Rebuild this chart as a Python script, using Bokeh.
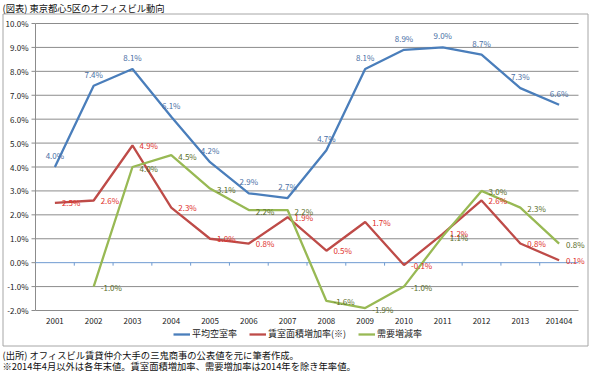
import math
from bokeh.plotting import figure
from bokeh.models import Range1d, Legend, LegendItem, ColumnDataSource
from bokeh.embed import file_html
from bokeh.resources import INLINE
from bokeh.core.properties import value

# ---- data ----
years = ["2001", "2002", "2003", "2004", "2005", "2006", "2007", "2008",
         "2009", "2010", "2011", "2012", "2013", "201404"]
vacancy = [4.0, 7.4, 8.1, 6.1, 4.2, 2.9, 2.7, 4.7, 8.1, 8.9, 9.0, 8.7, 7.3, 6.6]
supply = [2.5, 2.6, 4.9, 2.3, 1.0, 0.8, 1.9, 0.5, 1.7, -0.1, 1.2, 2.6, 0.8, 0.1]
demand = [None, -1.0, 4.0, 4.5, 3.1, 2.2, 2.2, -1.6, -1.9, -1.0, 1.1, 3.0, 2.3, 0.8]
y_ticks = [-2, -1, 0, 1, 2, 3, 4, 5, 6, 7, 8, 9, 10]
y_tick_labels = [f"{t:.1f}%" for t in y_ticks]
series_names = ["平均空室率", "賃室面積増加率(※)", "需要増減率"]
title_text = "(図表) 東京都心5区のオフィスビル動向"
note1 = "(出所) オフィスビル賃貸仲介大手の三鬼商事の公表値を元に筆者作成。"
note2 = "※2014年4月以外は各年末値。賃室面積増加率、需要増加率は2014年を除き年率値。"

# ---- style / layout (pixels in the figure canvas) ----
JP = "Noto Sans CJK JP"
BLUE, RED, GREEN = "#4A7EBB", "#BE4B48", "#98B954"
BLUE_T, RED_T, GREEN_T = "#4a6fa5", "#e0302a", "#5a6e2a"
GRID = "#8c8c8c"
ZERO = "#6f9bd1"
TXT = "#222222"
BORDER = "#a6a6a6"

FIG_W, FIG_H = 592, 371
PLOT_L, PLOT_R = 35, 578          # plot area
PLOT_T, PLOT_B = 23, 310
BOX_L, BOX_R, BOX_T, BOX_B = 2.5, 587.5, 13.5, 345.5   # chart border
TITLE_Y, NOTE1_Y, NOTE2_Y = 7, 354, 365
TEXT_X = 2

n = len(years)
y_lo, y_hi = y_ticks[0], y_ticks[-1]
upx_y = (y_hi - y_lo) / (PLOT_B - PLOT_T)
upx_x = n / (PLOT_R - PLOT_L)
x_range = Range1d(-0.5 - PLOT_L * upx_x, n - 0.5 + (FIG_W - PLOT_R) * upx_x)
y_range = Range1d(y_lo - (FIG_H - PLOT_B) * upx_y, y_hi + PLOT_T * upx_y)

def px_x(c):
    return x_range.start + c * upx_x

def px_y(c):
    return y_range.end - c * upx_y

p = figure(width=FIG_W, height=FIG_H, output_backend="svg", toolbar_location=None,
           x_range=x_range, y_range=y_range, x_axis_location=None,
           y_axis_location=None, min_border=0)
p.min_border_left = p.min_border_right = p.min_border_top = p.min_border_bottom = 0
p.outline_line_color = None
p.background_fill_color = "white"
p.border_fill_color = "white"
p.xgrid.visible = False
p.ygrid.visible = False

xs = list(range(n))
x_first, x_last = -0.5, n - 0.5
nan = float("nan")

# chart border
p.quad(left=[px_x(BOX_L)], right=[px_x(BOX_R)], top=[px_y(BOX_T)], bottom=[px_y(BOX_B)],
       fill_color=None, line_color=BORDER, line_width=1)

# gridlines (all ticks except zero)
gt = [t for t in y_ticks if t != 0]
p.segment(x0=[x_first] * len(gt), x1=[x_last] * len(gt), y0=gt, y1=gt,
          line_color=GRID, line_width=1)
# y axis line, ticks and labels
p.segment(x0=[x_first], x1=[x_first], y0=[y_lo], y1=[y_hi], line_color=GRID, line_width=1)
p.ray(x=[x_first] * len(y_ticks), y=y_ticks, length=4, length_units="screen",
      angle=math.pi, line_color=GRID, line_width=1)
p.text(x=[x_first] * len(y_ticks), y=y_ticks, text=y_tick_labels, x_offset=-7,
       text_align="right", text_baseline="middle", text_font=value(JP),
       text_font_size="8px", text_color=TXT)
# zero line (category axis) with boundary ticks
p.segment(x0=[x_first], x1=[x_last], y0=[0], y1=[0], line_color=ZERO, line_width=1)
bx = [i + 0.5 for i in xs[:-1]]
p.ray(x=bx, y=[0] * len(bx), length=3, length_units="screen", angle=-math.pi / 2,
      line_color=ZERO, line_width=1)
# category labels
p.text(x=xs, y=[y_lo] * n, text=years, y_offset=10, text_align="center",
       text_baseline="middle", text_font=value(JP), text_font_size="8px",
       text_color=TXT)

# series
r1 = p.line(xs, vacancy, line_color=BLUE, line_width=2.3)
r2 = p.line(xs, supply, line_color=RED, line_width=2.3)
r3 = p.line(xs, [nan if v is None else v for v in demand], line_color=GREEN, line_width=2.3)

def fmt(v):
    return f"{v:.1f}%"

s1 = ColumnDataSource(dict(x=xs, y=vacancy, t=[fmt(v) for v in vacancy]))
p.text(x="x", y="y", text="t", source=s1, text_align="center", text_baseline="bottom",
       y_offset=-6, text_font=value(JP), text_font_size="8px", text_color=BLUE_T)
s2 = ColumnDataSource(dict(x=xs, y=supply, t=[fmt(v) for v in supply]))
p.text(x="x", y="y", text="t", source=s2, text_align="left", text_baseline="middle",
       x_offset=7, text_font=value(JP), text_font_size="8px", text_color=RED_T)
dxs = [i for i, v in zip(xs, demand) if v is not None]
dvs = [v for v in demand if v is not None]
s3 = ColumnDataSource(dict(x=dxs, y=dvs, t=[fmt(v) for v in dvs]))
p.text(x="x", y="y", text="t", source=s3, text_align="left", text_baseline="middle",
       x_offset=7, y_offset=1, text_font=value(JP), text_font_size="8px", text_color=GREEN_T)

# legend inside the box, under the category labels
legend = Legend(items=[LegendItem(label=series_names[0], renderers=[r1]),
                       LegendItem(label=series_names[1], renderers=[r2]),
                       LegendItem(label=series_names[2], renderers=[r3])],
                orientation="horizontal", location=(173, 31),
                label_text_font=JP, label_text_font_size="9px", label_text_color=TXT,
                glyph_width=17, glyph_height=12, label_height=12, label_standoff=2,
                spacing=12, padding=0, margin=0, border_line_color=None,
                background_fill_alpha=0)
p.add_layout(legend, "center")

# title and notes
p.text(x=[px_x(TEXT_X)] * 3, y=[px_y(TITLE_Y), px_y(NOTE1_Y), px_y(NOTE2_Y)],
       text=[title_text, note1, note2], text_align="left", text_baseline="middle",
       text_font=value(JP), text_font_size="9.3px", text_color="#111111")

open("out.html", "w").write(file_html(p, INLINE))
